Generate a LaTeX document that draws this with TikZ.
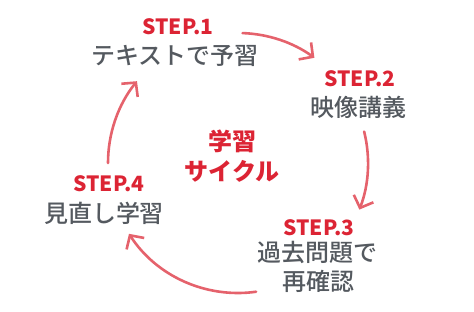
\documentclass[tikz,border=0pt]{standalone}
\usepackage{fontspec}
\setmainfont{Noto Sans CJK JP}
\newfontfamily\midfont{Noto Sans CJK JP Medium}
\usetikzlibrary{arrows.meta,calc}

\definecolor{stepred}{RGB}{220,36,52}
\definecolor{textgray}{RGB}{84,89,95}
\definecolor{arrowred}{RGB}{229,98,108}

\begin{document}
\begin{tikzpicture}[x=1pt,y=1pt,
    steplabel/.style={anchor=base,inner sep=0pt,text=stepred,
        font=\bfseries\fontsize{21}{21}\selectfont},
    stepname/.style={anchor=base,inner sep=0pt,text=textgray,
        font=\midfont\fontsize{24}{24}\selectfont},
    hubtext/.style={anchor=base,inner sep=0pt,text=stepred,
        font=\bfseries\fontsize{24}{24}\selectfont},
    looparrow/.style={arrowred,line width=2.6pt,line cap=round,
        -{Straight Barb[length=10pt,width=21pt]}}]
    \useasboundingbox (0,0) rectangle (474,311);
    \coordinate (hub) at (238,148);

    % steps
    \node[steplabel] (s1) at (178,276) {STEP.1};
    \node[stepname] (t1) at (175,246.5) {テキストで予習};
    \node[steplabel] (s2) at (360,224) {STEP.2};
    \node[stepname] (t2) at (358,194.5) {映像講義};
    \node[steplabel] (s3) at (319,76) {STEP.3};
    \node[stepname] (t3) at (317,49.5) {過去問題で};
    \node[stepname] (t3b) at (318,20.5) {再確認};
    \node[steplabel] (s4) at (109,119) {STEP.4};
    \node[stepname] (t4) at (104,88.5) {見直し学習};

    % centre
    \node[hubtext] (c1) at (232,160.5) {学習};
    \node[hubtext] (c2) at (232,130.5) {サイクル};

    % arrows round the circle
    \coordinate (from1) at ($(hub)+(88:130)$);
    \coordinate (from2) at ($(hub)+(14:130)$);
    \coordinate (from3) at ($(hub)+(-82:130)$);
    \coordinate (from4) at ($(hub)+(180:130)$);
    \draw[looparrow] (from1) arc[start angle=88,end angle=54,radius=130];
    \draw[looparrow] (from2) arc[start angle=14,end angle=-21,radius=130];
    \draw[looparrow] (from3) arc[start angle=-82,end angle=-147,radius=130];
    \draw[looparrow] (from4) arc[start angle=180,end angle=141,radius=130];
\end{tikzpicture}
\end{document}
